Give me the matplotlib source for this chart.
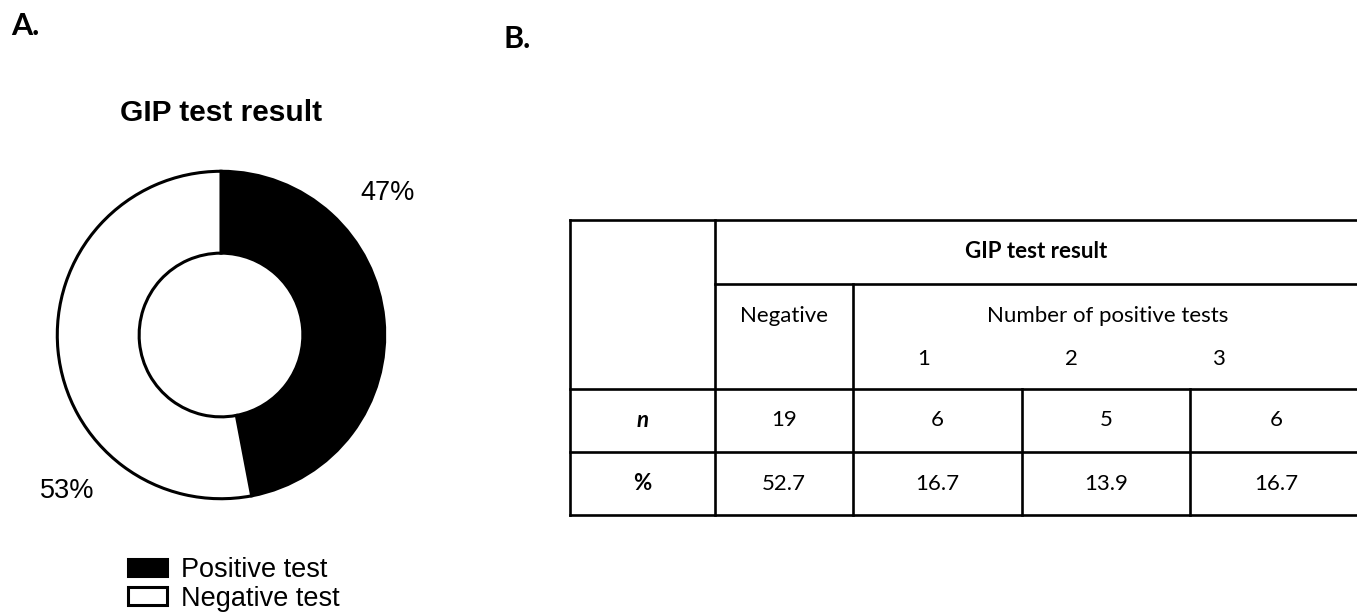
import numpy as np
import matplotlib
matplotlib.use('Agg')
import matplotlib.pyplot as plt

# Panel A data
slice_values = [47, 53]
slice_names = ['Positive test', 'Negative test']
slice_colors = ['black', 'white']

# Panel B data
table_title = 'GIP test result'
group_labels = ['Negative', 'Number of positive tests']
sub_labels = ['1', '2', '3']
row_labels = ['n', '%']
n_values = [19, 6, 5, 6]
pct_values = [52.7, 16.7, 13.9, 16.7]

plt.rcParams['font.family'] = ['Liberation Sans', 'DejaVu Sans']
table_font = 'Lato'

W, H = 1357, 612
fig = plt.figure(figsize=(W / 100, H / 100), dpi=100)

# full-figure axes in pixel units for the table and the panel letters
ax_t = fig.add_axes([0, 0, 1, 1])
ax_t.set_xlim(0, W)
ax_t.set_ylim(H, 0)
ax_t.axis('off')
ax_t.patch.set_alpha(0)

ax_t.text(11, 35, 'A.', fontsize=22, fontweight='bold', family=table_font)
ax_t.text(503, 48, 'B.', fontsize=22, fontweight='bold', family=table_font)

# --- Panel A: donut ---
cx, cy, r = 221, 335, 167
ax_p = fig.add_axes([(cx - r) / W, (H - cy - r) / H, 2 * r / W, 2 * r / H])
wedges, _ = ax_p.pie(slice_values, colors=slice_colors, startangle=90, counterclock=False,
                     radius=1, wedgeprops=dict(width=0.5, edgecolor='black', linewidth=2.2))
ax_p.set_xlim(-1.02, 1.02)
ax_p.set_ylim(-1.02, 1.02)
ax_p.set_aspect('equal')
ax_p.axis('off')
ax_p.text(0.85, 0.87, f'{slice_values[0]}%', fontsize=19.5, ha='left', va='center')
ax_p.text(-0.775, -0.95, f'{slice_values[1]}%', fontsize=19.5, ha='right', va='center')

ax_t.text(cx, 113, 'GIP test result', fontsize=21.5, fontweight='bold', ha='center', va='center')

fig.legend(wedges, slice_names, loc='upper left', bbox_to_anchor=(128 / W, 1 - 557 / H),
           frameon=False, fontsize=19.5, handlelength=1.45, handleheight=0.62,
           handletextpad=0.5, labelspacing=0.1, borderpad=0, borderaxespad=0)

# --- Panel B: table ---
col_x = [570, 715, 853, 1022, 1190, 1362]
row_y = [220, 284, 389, 452, 515]
lw = 1.9
kw = dict(color='black', lw=lw, solid_capstyle='projecting')

ax_t.plot([col_x[0], col_x[-1]], [row_y[0], row_y[0]], **kw)
ax_t.plot([col_x[1], col_x[-1]], [row_y[1], row_y[1]], **kw)
for y in row_y[2:]:
    ax_t.plot([col_x[0], col_x[-1]], [y, y], **kw)
ax_t.plot([col_x[0], col_x[0]], [row_y[0], row_y[-1]], **kw)
ax_t.plot([col_x[1], col_x[1]], [row_y[0], row_y[-1]], **kw)
ax_t.plot([col_x[2], col_x[2]], [row_y[1], row_y[-1]], **kw)
for x in col_x[3:5]:
    ax_t.plot([x, x], [row_y[2], row_y[-1]], **kw)

tfs = 16
mid = lambda a, b: (a + b) / 2
ax_t.text(mid(col_x[1], 1357), mid(row_y[0], row_y[1]), table_title, fontsize=tfs,
          fontweight='bold', ha='center', va='center', family=table_font)
ax_t.text(mid(col_x[1], col_x[2]), 316, group_labels[0], fontsize=tfs,
          ha='center', va='center', family=table_font)
ax_t.text(mid(col_x[2], 1357) + 3, 316, group_labels[1], fontsize=tfs,
          ha='center', va='center', family=table_font)
for i, lab in enumerate(sub_labels):
    ax_t.text(924 + 147 * i, 359, lab, fontsize=tfs, ha='center', va='center', family=table_font)

centers = [mid(col_x[i], col_x[i + 1]) for i in range(1, 4)] + [1276]
ax_t.text(mid(col_x[0], col_x[1]), mid(row_y[2], row_y[3]), row_labels[0], fontsize=tfs,
          fontweight='bold', style='italic', ha='center', va='center', family=table_font)
ax_t.text(mid(col_x[0], col_x[1]), mid(row_y[3], row_y[4]), row_labels[1], fontsize=tfs,
          fontweight='bold', ha='center', va='center', family=table_font)
for xc, nv, pv in zip(centers, n_values, pct_values):
    ax_t.text(xc, mid(row_y[2], row_y[3]), str(nv), fontsize=tfs, ha='center', va='center',
              family=table_font)
    ax_t.text(xc, mid(row_y[3], row_y[4]), f'{pv:.1f}', fontsize=tfs, ha='center', va='center',
              family=table_font)

fig.savefig('out.png', dpi=100)
